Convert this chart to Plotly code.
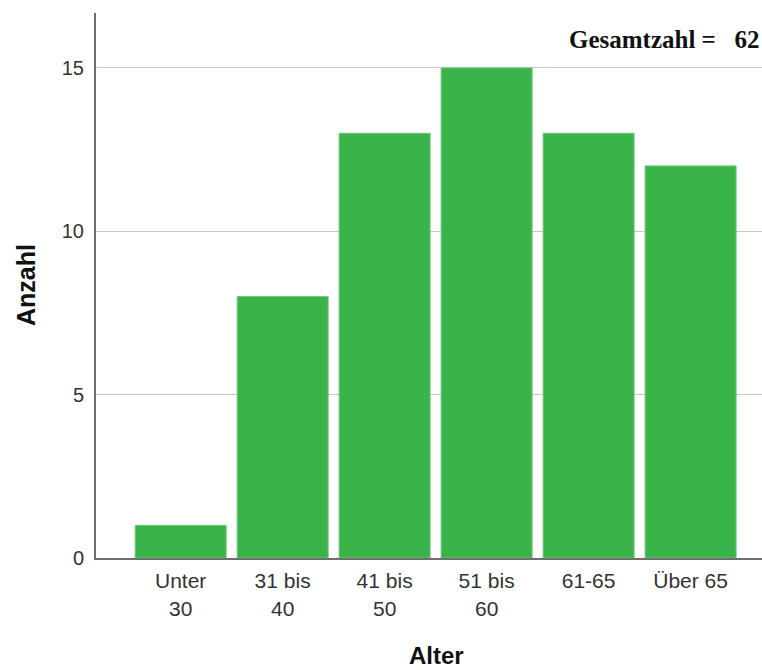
import plotly.graph_objects as go

categories = ["Unter<br>30", "31 bis<br>40", "41 bis<br>50", "51 bis<br>60", "61-65", "Über 65"]
counts = [1, 8, 13, 15, 13, 12]
total_label = "Gesamtzahl =&nbsp;&nbsp;&nbsp;62"
y_ticks = [0, 5, 10, 15]

W, H = 762, 670
L, R, T, B = 96, 0, 13, 112
PW = W - L - R
PH = H - T - B

fig = go.Figure(go.Bar(
    x=list(range(len(categories))),
    y=counts,
    marker=dict(color="#3bb34b", line=dict(color="#6cc878", width=1)),
    hoverinfo="skip",
))

fig.update_layout(
    width=W, height=H,
    margin=dict(l=L, r=R, t=T, b=B),
    paper_bgcolor="white", plot_bgcolor="white",
    bargap=0.108,
    showlegend=False,
    font=dict(family="Liberation Sans, Arial, sans-serif", size=21, color="#333333"),
    xaxis=dict(
        range=[-0.83, 5.70],
        tickmode="array",
        tickvals=list(range(len(categories))),
        ticktext=categories,
        ticks="",
        ticklabelstandoff=3,
        showgrid=False,
        zeroline=False,
        showline=True, linecolor="#6e6e6e", linewidth=2,
        tickfont=dict(size=21, color="#333333"),
    ),
    yaxis=dict(
        range=[0, 16.68],
        tickmode="array",
        tickvals=y_ticks,
        ticks="",
        ticklabelstandoff=6,
        showgrid=True, gridcolor="#c8c8c8", gridwidth=1,
        zeroline=False,
        showline=True, linecolor="#6e6e6e", linewidth=2,
        tickfont=dict(size=20, color="#333333"),
    ),
    annotations=[
        dict(text="<b>" + total_label + "</b>", xref="paper", yref="paper",
             x=1, y=(558 - 40) / PH, xanchor="right", yanchor="middle",
             showarrow=False,
             font=dict(family="Liberation Serif, Times New Roman, serif", size=25, color="#111111")),
        dict(text="<b>Anzahl</b>", xref="paper", yref="paper",
             x=-(96 - 26) / PW, y=(558 - 285) / PH, xanchor="center", yanchor="middle",
             textangle=-90, showarrow=False,
             font=dict(size=25, color="#111111")),
        dict(text="<b>Alter</b>", xref="paper", yref="paper",
             x=(436 - 96) / PW, y=-(655 - 558) / PH, xanchor="center", yanchor="middle",
             showarrow=False,
             font=dict(size=24, color="#111111")),
    ],
)

fig.write_html("out.html",
               config={"displayModeBar": False},
               post_script="document.body.style.margin='0';document.body.style.overflow='hidden';")
